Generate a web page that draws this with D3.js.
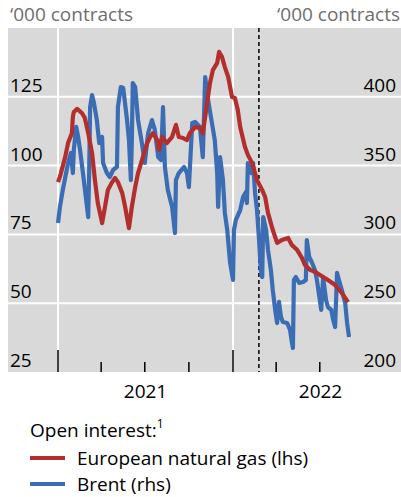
<html>
  <head>
    <script src="https://d3js.org/d3.v7.min.js"></script>
    <style>
      body { margin: 0; background: #fff; }
      text { font-family: "Open Sans", "Noto Sans", sans-serif; }
    </style>
  </head>
  <body>
    <div id="dataviz"></div>
    <script>
      // European natural gas open interest, '000 contracts (lhs)
      var gasDates = [
        "2021-01-01","2021-01-05","2021-01-16","2021-01-22","2021-01-30","2021-02-01","2021-02-03","2021-02-10",
        "2021-02-20","2021-02-26","2021-03-05","2021-03-13","2021-03-19","2021-03-25","2021-04-03","2021-04-09",
        "2021-04-15","2021-04-24","2021-04-30","2021-05-06","2021-05-15","2021-05-21","2021-05-29","2021-06-04",
        "2021-06-11","2021-06-17","2021-06-27","2021-07-06","2021-07-12","2021-07-18","2021-07-27","2021-07-31",
        "2021-08-06","2021-08-16","2021-08-27","2021-09-04","2021-09-10","2021-09-19","2021-09-27","2021-10-03",
        "2021-10-14","2021-10-24","2021-10-30","2021-11-04","2021-11-08","2021-11-14","2021-11-20","2021-11-29",
        "2021-12-03","2021-12-09","2021-12-15","2021-12-22","2021-12-30","2022-01-05","2022-01-11","2022-01-16",
        "2022-01-26","2022-02-01","2022-02-10","2022-02-20","2022-03-03","2022-03-09","2022-03-15","2022-03-25",
        "2022-04-03","2022-04-13","2022-04-26","2022-05-04","2022-05-15","2022-05-25","2022-05-31","2022-06-11",
        "2022-06-25","2022-07-08","2022-07-18","2022-08-02","2022-08-16","2022-08-29"
      ];
      var gasValues = [
        94.0, 95.9, 103.1, 108.2, 111.8, 117.7, 119.5, 120.6,
        119.1, 117.3, 111.8, 104.6, 94.8, 86.4, 79.1, 85.0,
        91.1, 94.0, 95.5, 94.0, 90.0, 85.0, 77.3, 85.0,
        92.2, 97.3, 103.1, 108.2, 110.4, 111.8, 109.3, 105.7,
        110.4, 108.2, 110.4, 114.8, 110.4, 110.0, 109.3, 111.8,
        114.0, 113.7, 111.8, 117.7, 122.7, 130.0, 134.7, 137.3,
        141.3, 139.5, 135.8, 132.2, 124.9, 124.6, 120.2, 114.0,
        106.8, 103.9, 100.9, 94.8, 91.1, 88.6, 82.8, 76.6,
        71.9, 73.0, 73.7, 71.1, 69.3, 66.4, 63.9, 62.1,
        61.0, 59.5, 58.4, 56.6, 53.7, 50.4
      ];

      // Brent open interest, '000 contracts (rhs)
      var brentDates = [
        "2021-01-01","2021-01-05","2021-01-11","2021-01-22","2021-01-28","2021-02-01","2021-02-03","2021-02-08",
        "2021-02-12","2021-02-16","2021-02-22","2021-02-28","2021-03-05","2021-03-07","2021-03-09","2021-03-13",
        "2021-03-17","2021-03-23","2021-03-28","2021-04-03","2021-04-05","2021-04-13","2021-04-19","2021-04-26",
        "2021-05-04","2021-05-06","2021-05-12","2021-05-17","2021-05-25","2021-05-29","2021-06-02","2021-06-04",
        "2021-06-06","2021-06-11","2021-06-17","2021-06-25","2021-07-01","2021-07-08","2021-07-16","2021-07-22",
        "2021-07-29","2021-08-04","2021-08-08","2021-08-12","2021-08-18","2021-08-27","2021-09-02","2021-09-04",
        "2021-09-10","2021-09-21","2021-09-27","2021-10-01","2021-10-08","2021-10-14","2021-10-24","2021-10-30",
        "2021-11-04","2021-11-10","2021-11-18","2021-11-24","2021-11-29","2021-12-01","2021-12-05","2021-12-11",
        "2021-12-15","2021-12-20","2021-12-26","2022-01-01","2022-01-03","2022-01-07","2022-01-16","2022-01-22",
        "2022-01-28","2022-01-30","2022-02-01","2022-02-08","2022-02-12","2022-02-16","2022-02-20","2022-02-24",
        "2022-02-28","2022-03-03","2022-03-05","2022-03-11","2022-03-15","2022-03-21","2022-03-25","2022-03-30",
        "2022-04-03","2022-04-07","2022-04-11","2022-04-15","2022-04-24","2022-04-30","2022-05-04","2022-05-06",
        "2022-05-08","2022-05-12","2022-05-19","2022-05-27","2022-06-02","2022-06-04","2022-06-09","2022-06-15",
        "2022-06-21","2022-06-25","2022-07-04","2022-07-08","2022-07-14","2022-07-18","2022-07-25","2022-07-29",
        "2022-08-02","2022-08-06","2022-08-10","2022-08-16","2022-08-23","2022-08-27","2022-08-31"
      ];
      var brentValues = [
        308.3, 319.9, 332.3, 351.9, 359.2, 344.6, 361.3, 378.1,
        370.8, 361.3, 344.6, 327.2, 312.6, 344.6, 392.6, 401.3,
        395.5, 383.1, 366.4, 370.8, 351.9, 344.6, 341.7, 346.8,
        349.0, 392.6, 407.1, 406.4, 383.1, 368.6, 339.5, 368.6,
        410.0, 407.1, 383.1, 366.4, 351.9, 373.7, 383.1, 375.9,
        356.2, 354.1, 392.6, 349.0, 332.3, 319.9, 301.0, 339.5,
        344.6, 349.0, 344.6, 334.4, 381.0, 381.7, 378.1, 356.2,
        414.4, 397.7, 381.0, 368.6, 344.6, 319.9, 356.2, 339.5,
        315.6, 303.2, 279.2, 266.9, 303.2, 310.5, 317.7, 327.2,
        330.8, 322.8, 351.9, 344.6, 351.9, 330.1, 317.7, 298.1,
        274.1, 269.0, 312.6, 303.2, 288.7, 274.1, 259.6, 245.1,
        235.6, 250.9, 240.0, 236.3, 235.6, 230.5, 221.1, 217.4,
        266.9, 269.0, 264.7, 265.4, 266.9, 295.9, 283.6, 279.2,
        274.1, 266.9, 245.1, 269.0, 252.3, 247.2, 245.1, 237.8,
        232.7, 272.0, 266.9, 259.6, 250.1, 235.6, 225.4
      ];

      var leftTicks = [25, 50, 75, 100, 125];
      var rightTicks = [200, 250, 300, 350, 400];
      var yearLabels = ["2021", "2022"];
      var eventDate = "2022-02-24";
      var unitLabel = "\u2018000 contracts";
      var legendTitle = "Open interest:";
      var seriesNames = ["European natural gas (lhs)", "Brent (rhs)"];

      var red = "#b22f2e", blue = "#3b6db4";
      var W = 401, H = 497;
      var plot = {left: 8, right: 401, top: 28, bottom: 372};
      var fs = 19;

      var parse = d3.timeParse("%Y-%m-%d");
      var gas = gasDates.map(function(d, i) { return {date: parse(d), value: gasValues[i]}; });
      var brent = brentDates.map(function(d, i) { return {date: parse(d), value: brentValues[i]}; });

      var svg = d3.select("#dataviz")
        .append("svg")
          .attr("width", W)
          .attr("height", H);

      var x = d3.scaleTime()
        .domain([parse("2021-01-01"), parse("2023-01-01")])
        .range([58, 408]);

      var yL = d3.scaleLinear()
        .domain([25, 150])
        .range([plot.bottom, plot.top]);

      var yR = d3.scaleLinear()
        .domain([200, 450])
        .range([plot.bottom, plot.top]);

      svg.append("rect")
        .attr("x", plot.left)
        .attr("y", plot.top)
        .attr("width", plot.right - plot.left)
        .attr("height", plot.bottom - plot.top)
        .attr("fill", "#d9d9d9");

      // horizontal gridlines
      svg.append("g")
        .selectAll("line")
        .data(leftTicks.slice(1))
        .join("line")
          .attr("x1", plot.left)
          .attr("x2", plot.right)
          .attr("y1", function(d) { return yL(d); })
          .attr("y2", function(d) { return yL(d); })
          .attr("stroke", "#fff")
          .attr("stroke-width", 2);

      // vertical year gridlines
      var years = [parse("2021-01-01"), parse("2022-01-01")];
      svg.append("g")
        .selectAll("line")
        .data(years)
        .join("line")
          .attr("x1", function(d) { return x(d); })
          .attr("x2", function(d) { return x(d); })
          .attr("y1", plot.top)
          .attr("y2", plot.bottom)
          .attr("stroke", "#fff")
          .attr("stroke-width", 2);

      // quarter ticks along the bottom
      var quarters = d3.timeMonth.every(3).range(parse("2021-01-01"), parse("2022-08-01"));
      svg.append("g")
        .selectAll("line")
        .data(quarters)
        .join("line")
          .attr("x1", function(d) { return x(d); })
          .attr("x2", function(d) { return x(d); })
          .attr("y1", function(d) { return d.getMonth() === 0 ? plot.bottom - 22 : plot.bottom - 10; })
          .attr("y2", plot.bottom)
          .attr("stroke", "#000")
          .attr("stroke-width", 1.5);

      // event line
      svg.append("line")
        .attr("x1", x(parse(eventDate)))
        .attr("x2", x(parse(eventDate)))
        .attr("y1", plot.top)
        .attr("y2", plot.bottom)
        .attr("stroke", "#000")
        .attr("stroke-width", 1.5)
        .attr("stroke-dasharray", "4,3");

      var lineL = d3.line()
        .x(function(d) { return x(d.date); })
        .y(function(d) { return yL(d.value); });
      var lineR = d3.line()
        .x(function(d) { return x(d.date); })
        .y(function(d) { return yR(d.value); });

      svg.append("path")
        .datum(brent)
        .attr("fill", "none")
        .attr("stroke", blue)
        .attr("stroke-width", 4.2)
        .attr("stroke-linejoin", "round")
        .attr("d", lineR);

      svg.append("path")
        .datum(gas)
        .attr("fill", "none")
        .attr("stroke", red)
        .attr("stroke-width", 4.2)
        .attr("stroke-linejoin", "round")
        .attr("d", lineL);

      // axis labels
      svg.append("g")
        .selectAll("text")
        .data(leftTicks)
        .join("text")
          .attr("x", 10)
          .attr("y", function(d) { return yL(d) - 5; })
          .attr("font-size", fs)
          .attr("fill", "#000")
          .text(function(d) { return d; });

      svg.append("g")
        .selectAll("text")
        .data(rightTicks)
        .join("text")
          .attr("x", 396)
          .attr("y", function(d) { return yR(d) - 5; })
          .attr("font-size", fs)
          .attr("text-anchor", "end")
          .attr("fill", "#000")
          .text(function(d) { return d; });

      svg.append("text")
        .attr("x", 10).attr("y", 21)
        .attr("font-size", fs).attr("fill", "#6e6e6e")
        .text(unitLabel);
      svg.append("text")
        .attr("x", 400).attr("y", 21)
        .attr("font-size", fs).attr("fill", "#6e6e6e")
        .attr("text-anchor", "end")
        .text(unitLabel);

      svg.append("g")
        .selectAll("text")
        .data(yearLabels)
        .join("text")
          .attr("x", function(d) { return (x(parse(d + "-01-01")) + x(parse((+d + 1) + "-01-01"))) / 2; })
          .attr("y", 398)
          .attr("font-size", fs)
          .attr("text-anchor", "middle")
          .text(function(d) { return d; });

      // legend
      var lt = svg.append("text")
        .attr("x", 30).attr("y", 437)
        .attr("font-size", fs)
        .text(legendTitle);
      lt.append("tspan")
        .attr("dy", -9)
        .attr("font-size", 12)
        .text("1");

      var legend = svg.append("g")
        .selectAll("g")
        .data(seriesNames)
        .join("g")
          .attr("transform", function(d, i) { return "translate(0," + (458 + i * 26) + ")"; });
      legend.append("line")
        .attr("x1", 30).attr("x2", 65)
        .attr("stroke", function(d, i) { return i === 0 ? red : blue; })
        .attr("stroke-width", 4);
      legend.append("text")
        .attr("x", 77).attr("y", 7)
        .attr("font-size", fs)
        .text(function(d) { return d; });
    </script>
  </body>
</html>
